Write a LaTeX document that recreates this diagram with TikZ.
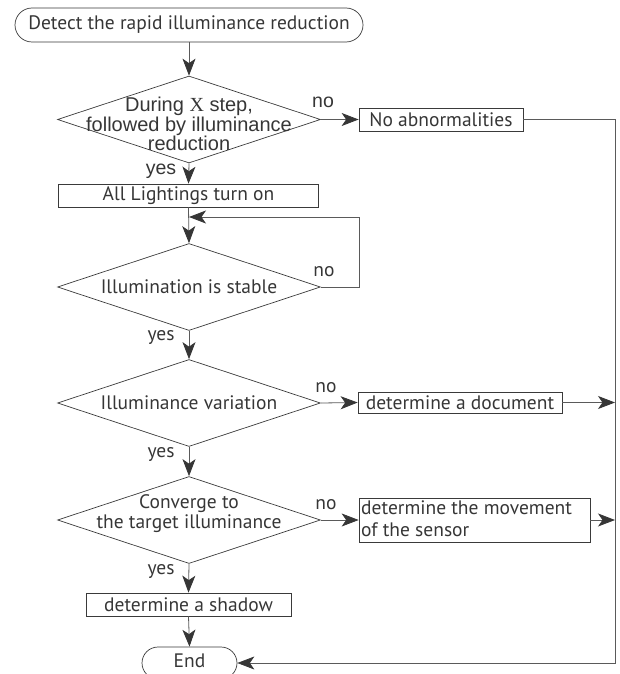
\documentclass[tikz,border=0pt]{standalone}
\usepackage{fontspec}
\setmainfont{PT Sans}
\newfontfamily\arialf{Liberation Sans}
\newfontfamily\seriff{Liberation Serif}
\usetikzlibrary{shapes.geometric,arrows.meta}
\definecolor{ink}{HTML}{363636}
\definecolor{edge}{HTML}{3A3A3A}
\definecolor{conn}{HTML}{5A5A5A}
\begin{document}
\begin{tikzpicture}[x=1pt,y=-1pt,
  font=\fontsize{19.5}{22}\selectfont, text=ink,
  dia/.style={draw=edge, line width=0.7pt, diamond, inner sep=0pt, minimum width=263pt, minimum height=87pt},
  procbox/.style={draw=edge, line width=0.7pt, rectangle, inner sep=0pt},
  term/.style={draw=edge, line width=0.7pt, rectangle, inner sep=0pt},
  lbl/.style={inner sep=0pt},
  arr/.style={draw=conn, line width=0.8pt, -{Stealth[length=17pt,width=13pt,inset=4.5pt,color=ink]}},
  ln/.style={draw=conn, line width=0.8pt}]
\useasboundingbox (0,0) rectangle (619,674);

% nodes
\node[term, rounded corners=17pt, minimum width=348pt, minimum height=34pt] (start) at (189,25) {};
\node[lbl] (starttxt) at (189,25) {Detect the rapid illuminance reduction};

\node[dia] (d1) at (189,119.5) {};
\node[lbl, align=center, font=\arialf\fontsize{20}{17.5}\selectfont] (d1txt) at (189,124) {During {\seriff X} step,\\followed by illuminance\\reduction};

\node[procbox, minimum width=164pt, minimum height=23pt] (na) at (441,119.5) {};
\node[lbl] (natxt) at (441,119.5) {No abnormalities};

\node[procbox, minimum width=260pt, minimum height=23pt] (b2) at (188.5,195.5) {};
\node[lbl] (b2txt) at (188.5,195.5) {All Lightings turn on};

\node[dia] (d2) at (189,287) {};
\node[lbl] (d2txt) at (189,287) {Illumination is stable};

\node[dia] (d3) at (189,403) {};
\node[lbl] (d3txt) at (189,403) {Illuminance variation};

\node[procbox, minimum width=204pt, minimum height=21pt] (doc) at (460,402.5) {};
\node[lbl] (doctxt) at (460,402.5) {determine a document};

\node[dia] (d4) at (189,520) {};
\node[lbl, align=center, font=\fontsize{19.5}{20}\selectfont] (d4txt) at (189,514) {Converge to\\the target illuminance};

\node[procbox, minimum width=231pt, minimum height=44pt] (mv) at (474.5,520) {};
\node[lbl, align=left, anchor=west, font=\fontsize{19.5}{22}\selectfont] (mvtxt) at (361,519) {determine the movement\\of the sensor};

\node[procbox, minimum width=205pt, minimum height=23pt] (sh) at (188.5,604.5) {};
\node[lbl] (shtxt) at (188.5,604.5) {determine a shadow};

\node[term, rounded corners=16pt, minimum width=95pt, minimum height=32pt] (end) at (189.5,663) {};
\node[lbl] (endtxt) at (189.5,661) {End};

% yes / no labels
\node[lbl, font=\arialf\fontsize{19.5}{20}\selectfont] (no1) at (323,102) {no};
\node[lbl, font=\arialf\fontsize{19.5}{20}\selectfont] (yes1) at (161,171) {yes};
\node[lbl] (no2) at (324,272) {no};
\node[lbl] (yes2) at (161,338) {yes};
\node[lbl] (no3) at (326,388) {no};
\node[lbl] (yes3) at (161,455) {yes};
\node[lbl] (no4) at (326,505) {no};
\node[lbl] (yes4) at (161,572) {yes};

% helper coordinates
\coordinate (rtop) at (615,119.5);
\coordinate (rbot) at (615,663);
\coordinate (rdoc) at (615,402.5);
\coordinate (rmv) at (615,520);
\coordinate (loopR) at (359,287);
\coordinate (loopT) at (359,217);
\coordinate (loopE) at (189,217);

% connectors
\draw[arr] (start.south) -- (d1.north);
\draw[arr] (d1.east) -- (na.west);
\draw[arr] (na.east) -- (rtop) -- (rbot) -- (end.east);
\draw[arr] (d1.south) -- (b2.north);
\draw[arr] (b2.south) -- (d2.north);
\draw[arr] (d2.east) -- (loopR) -- (loopT) -- (loopE);
\draw[arr] (d2.south) -- (d3.north);
\draw[arr] (d3.east) -- (doc.west);
\draw[arr] (doc.east) -- (rdoc);
\draw[arr] (d3.south) -- (d4.north);
\draw[arr] (d4.east) -- (mv.west);
\draw[arr] (mv.east) -- (rmv);
\draw[arr] (d4.south) -- (sh.north);
\draw[arr] (sh.south) -- (end.north);
\end{tikzpicture}
\end{document}
